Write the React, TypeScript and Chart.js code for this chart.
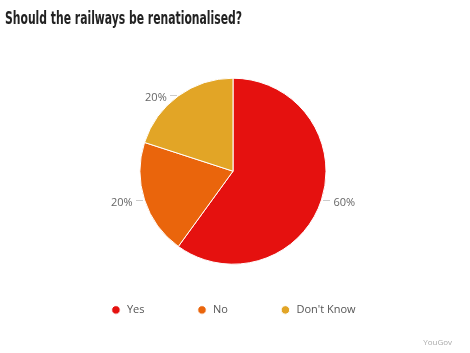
import React, { useEffect, useRef } from "react";
import { Chart, registerables } from "chart.js";

Chart.register(...registerables);

const TITLE = "Should the railways be renationalised?";
const CREDIT = "YouGov";
const categories = ["Yes", "No", "Don't Know"];
const shares = [60, 20, 20];
const colors = ["#E5110F", "#EA650C", "#E2A526"];

const FONT = "'Open Sans', 'Noto Sans', sans-serif";
const TITLE_FONT = "'DejaVu Sans Condensed', 'Liberation Sans Narrow', sans-serif";

// Condensed heavy headline (drawn as real canvas text, horizontally condensed)
const titlePlugin = {
  id: "condensedTitle",
  afterDraw(chart: any) {
    const ctx = chart.ctx;
    ctx.save();
    ctx.font = `bold 16px ${TITLE_FONT}`;
    ctx.fillStyle = "#222222";
    ctx.textBaseline = "middle";
    ctx.textAlign = "left";
    const w = ctx.measureText(TITLE).width;
    const sx = 237 / w;
    ctx.translate(5, 19.5);
    ctx.scale(sx, 1.05);
    ctx.fillText(TITLE, 0, 0);
    ctx.restore();
  },
};

const labelPlugin = {
  id: "sliceLabels",
  afterDatasetsDraw(chart: any) {
    const meta = chart.getDatasetMeta(0);
    const ds = chart.data.datasets[0];
    const ctx = chart.ctx;
    ctx.save();
    ctx.font = `11px ${FONT}`;
    ctx.textBaseline = "middle";
    meta.data.forEach((arc: any, i: number) => {
      const p = arc.getProps(["x", "y", "startAngle", "endAngle", "outerRadius"], true);
      const mid = (p.startAngle + p.endAngle) / 2;
      const ex = p.x + Math.cos(mid) * (p.outerRadius + 1);
      const ey = p.y + Math.sin(mid) * (p.outerRadius + 1);
      const right = Math.cos(mid) >= 0;
      const dir = right ? 1 : -1;
      ctx.strokeStyle = "#cccccc";
      ctx.lineWidth = 1;
      ctx.beginPath();
      ctx.moveTo(Math.round(ex + dir * 1), Math.round(ey) + 0.5);
      ctx.lineTo(Math.round(ex + dir * 8), Math.round(ey) + 0.5);
      ctx.stroke();
      ctx.fillStyle = "#666666";
      ctx.textAlign = right ? "left" : "right";
      ctx.fillText(`${ds.data[i]}%`, ex + dir * 11, ey + 3);
    });
    ctx.restore();
  },
};

export default function App() {
  const ref = useRef<HTMLCanvasElement>(null);
  useEffect(() => {
    if (!ref.current) return;
    const chart = new Chart(ref.current, {
      type: "pie",
      data: {
        labels: categories,
        datasets: [
          {
            data: shares,
            backgroundColor: colors,
            borderColor: "#ffffff",
            borderWidth: 1,
            radius: 93,
            clip: false,
          } as any,
        ],
      },
      options: {
        responsive: false,
        animation: false,
        events: [],
        layout: { padding: { left: 14, right: 18, top: 90, bottom: 0 } },
        plugins: {
          title: { display: false },
          subtitle: {
            display: true,
            text: CREDIT,
            position: "bottom",
            align: "end",
            color: "#aaaaaa",
            font: { family: FONT, size: 8, lineHeight: 1.2 },
            padding: { top: 13, bottom: 5 },
          },
          legend: {
            display: true,
            position: "bottom",
            align: "center",
            labels: {
              usePointStyle: true,
              pointStyle: "circle",
              boxWidth: 11,
              boxHeight: 6,
              padding: 52,
              color: "#555555",
              font: { family: FONT, size: 11 },
            },
          },
          tooltip: { enabled: false },
        },
      },
      plugins: [labelPlugin, titlePlugin],
    });
    return () => chart.destroy();
  }, []);
  return (
    <div style={{ position: "fixed", left: 0, top: 0, width: 470, height: 353, background: "#fff" }}>
      <canvas ref={ref} width={470} height={353} />
    </div>
  );
}
